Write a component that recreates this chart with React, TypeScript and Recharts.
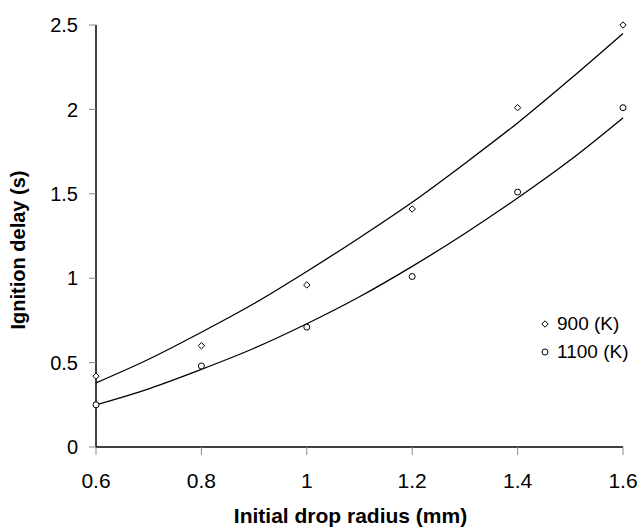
import React from "react";
import {
  ComposedChart,
  Line,
  Scatter,
  XAxis,
  YAxis,
  Legend,
  Label,
} from "recharts";

const radius = [0.6, 0.8, 1.0, 1.2, 1.4, 1.6];
const delay900 = [0.42, 0.6, 0.96, 1.41, 2.01, 2.5];
const delay1100 = [0.25, 0.48, 0.71, 1.01, 1.51, 2.01];

const trendX = [0.6, 0.7, 0.8, 0.9, 1.0, 1.1, 1.2, 1.3, 1.4, 1.5, 1.6];
const trend900 = [0.38, 0.52, 0.68, 0.85, 1.04, 1.24, 1.45, 1.68, 1.92, 2.18, 2.45];
const trend1100 = [0.25, 0.345, 0.46, 0.585, 0.73, 0.89, 1.07, 1.265, 1.475, 1.7, 1.95];

const xTicks = [0.6, 0.8, 1.0, 1.2, 1.4, 1.6];
const yTicks = [0, 0.5, 1, 1.5, 2, 2.5];
const legendOrder = ["900 (K)", "1100 (K)"];

const series900 = radius.map((x, i) => ({ x, y: delay900[i] }));
const series1100 = radius.map((x, i) => ({ x, y: delay1100[i] }));
const trendData = trendX.map((x, i) => ({ x, t900: trend900[i], t1100: trend1100[i] }));

const FONT = "'Liberation Sans', Arial, Helvetica, sans-serif";

const Diamond = (props: any) => {
  const { cx, cy } = props;
  if (cx == null || cy == null) return null;
  const r = 3.2;
  return (
    <path
      d={`M${cx},${cy - r}L${cx + r},${cy}L${cx},${cy + r}L${cx - r},${cy}Z`}
      fill="#fff"
      stroke="#000"
      strokeWidth={1}
    />
  );
};

const Circle = (props: any) => {
  const { cx, cy } = props;
  if (cx == null || cy == null) return null;
  return <circle cx={cx} cy={cy} r={3} fill="#fff" stroke="#000" strokeWidth={1} />;
};

const fmt = (v: number) => String(Math.round(v * 10) / 10);

const LegendContent = (props: any) => {
  const items = (props.payload || [])
    .filter((p: any) => p.type !== "none")
    .sort((a: any, b: any) => legendOrder.indexOf(a.value) - legendOrder.indexOf(b.value));
  return (
    <div style={{ fontFamily: FONT, fontSize: 19, color: "#000" }}>
      {items.map((p: any, i: number) => (
        <div key={i} style={{ display: "flex", alignItems: "center", height: 28 }}>
          <svg width={14} height={14} style={{ marginRight: 5 }}>
            {p.value === "900 (K)" ? (
              <Diamond cx={7} cy={7} />
            ) : (
              <Circle cx={7} cy={7} />
            )}
          </svg>
          <span>{p.value}</span>
        </div>
      ))}
    </div>
  );
};

export default function App() {
  return (
    <div style={{ position: "absolute", left: 0, top: 0, background: "#fff" }}>
      <ComposedChart
        width={641}
        height={527}
        data={trendData}
        margin={{ top: 25, right: 18, bottom: 0, left: 0 }}
      >
        <XAxis
          type="number"
          dataKey="x"
          domain={[0.6, 1.6]}
          ticks={xTicks}
          tickFormatter={fmt}
          height={80}
          tickSize={8}
          tickMargin={18}
          axisLine={{ stroke: "#000", strokeWidth: 1.5 }}
          tickLine={{ stroke: "#888", strokeWidth: 1 }}
          tick={{ fill: "#000", fontSize: 21, fontFamily: FONT }}
        >
          <Label
            content={(p: any) => {
              const vb = p.viewBox;
              return (
                <text
                  x={vb.x + vb.width / 2 - 9}
                  y={vb.y + 68}
                  textAnchor="middle"
                  dominantBaseline="central"
                  fontFamily={FONT}
                  fontWeight="bold"
                  fontSize={21}
                  fill="#000"
                >
                  Initial drop radius (mm)
                </text>
              );
            }}
          />
        </XAxis>
        <YAxis
          type="number"
          domain={[0, 2.5]}
          ticks={yTicks}
          width={96}
          tickSize={7}
          tickMargin={11}
          axisLine={{ stroke: "#000", strokeWidth: 1.5 }}
          tickLine={{ stroke: "#888", strokeWidth: 1 }}
          tick={{ fill: "#000", fontSize: 20, fontFamily: FONT }}
        >
          <Label
            content={(p: any) => {
              const vb = p.viewBox;
              const cx = 18;
              const cy = vb.y + vb.height / 2 + 14;
              return (
                <text
                  x={cx}
                  y={cy}
                  transform={`rotate(-90 ${cx} ${cy})`}
                  textAnchor="middle"
                  dominantBaseline="central"
                  fontFamily={FONT}
                  fontWeight="bold"
                  fontSize={20}
                  fill="#000"
                >
                  Ignition delay (s)
                </text>
              );
            }}
          />
        </YAxis>
        <Line
          dataKey="t900"
          type="monotone"
          stroke="#000"
          strokeWidth={1.3}
          dot={false}
          legendType="none"
          isAnimationActive={false}
        />
        <Line
          dataKey="t1100"
          type="monotone"
          stroke="#000"
          strokeWidth={1.3}
          dot={false}
          legendType="none"
          isAnimationActive={false}
        />
        <Scatter
          name="900 (K)"
          data={series900}
          dataKey="y"
          shape={Diamond}
          isAnimationActive={false}
        />
        <Scatter
          name="1100 (K)"
          data={series1100}
          dataKey="y"
          shape={Circle}
          isAnimationActive={false}
        />
        <Legend
          content={LegendContent}
          layout="vertical"
          align="center"
          verticalAlign="middle"
          wrapperStyle={{ position: "absolute", left: 538, top: 310, width: 103 }}
        />
      </ComposedChart>
    </div>
  );
}
